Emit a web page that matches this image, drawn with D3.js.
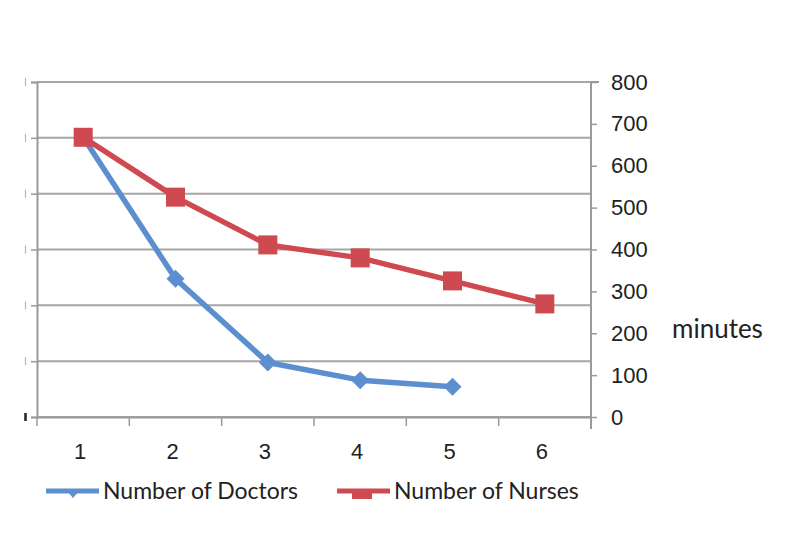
<!DOCTYPE html>
<html>
<head>
<meta charset="utf-8">
<script src="https://cdn.jsdelivr.net/npm/d3@7"></script>
<style>
  body { margin: 0; background: #fff; }
  svg { display: block; font-family: Lato, "Open Sans", sans-serif; }
</style>
</head>
<body>
<div id="chart"></div>
<script>
'use strict';

// data
var categories = ["1", "2", "3", "4", "5", "6"];
var doctors = [668, 330, 130, 88, 72, null];
var nurses = [668, 525, 411, 380, 325, 270];
var rightTicks = [0, 100, 200, 300, 400, 500, 600, 700, 800];
var leftTicks = [0, 200, 400, 600, 800, 1000, 1200];
var seriesNames = ["Number of Doctors", "Number of Nurses"];
var seriesColors = ["#5b8fcf", "#cf4a50"];

var W = 800, H = 555;
var plot = { left: 37, right: 591, top: 82, bottom: 417 };
var axisGrey = "#9a9a9a";

var svg = d3.select("#chart").append("svg")
	.attr("width", W)
	.attr("height", H);

var x = d3.scaleBand()
	.domain(categories)
	.range([plot.left, plot.right]);

var yRight = d3.scaleLinear()
	.domain([0, 800])
	.range([plot.bottom, plot.top]);

// primary axis: only drives the gridlines, its labels are off the picture
var yLeft = d3.scaleLinear()
	.domain([0, 1200])
	.range([plot.bottom, plot.top]);

// gridlines
svg.append("g")
	.selectAll("line")
	.data(leftTicks)
	.enter().append("line")
	.attr("x1", plot.left)
	.attr("x2", plot.right)
	.attr("y1", function(d) { return yLeft(d); })
	.attr("y2", function(d) { return yLeft(d); })
	.attr("stroke", "#a6a6a6")
	.attr("stroke-width", 2);

var leftAxis = svg.append("g")
	.attr("transform", "translate(" + plot.left + ",0)")
	.call(d3.axisLeft(yLeft).tickValues(leftTicks).tickSize(6).tickFormat(""));
leftAxis.select(".domain").attr("stroke", axisGrey).attr("stroke-width", 2);
leftAxis.selectAll(".tick line").attr("stroke", axisGrey).attr("stroke-width", 1.5);

// slivers of the cut-off left labels
svg.append("g").selectAll("line")
	.data(leftTicks)
	.enter().append("line")
	.attr("x1", 25.5).attr("x2", 25.5)
	.attr("y1", function(d) { return yLeft(d) - 4; })
	.attr("y2", function(d) { return yLeft(d) + 4; })
	.attr("stroke", function(d) { return d === 0 ? "#222" : "#b5b5b5"; })
	.attr("stroke-width", function(d) { return d === 0 ? 2.5 : 1.2; });

// right axis
var rightAxis = svg.append("g")
	.attr("transform", "translate(" + plot.right + ",0)")
	.call(d3.axisRight(yRight).tickValues(rightTicks).tickSize(6).tickPadding(14));
rightAxis.select(".domain").attr("stroke", axisGrey).attr("stroke-width", 2)
	.attr("d", "M0," + plot.top + "V" + (plot.bottom + 12));
rightAxis.selectAll(".tick line").attr("stroke", axisGrey).attr("stroke-width", 1.5);
rightAxis.selectAll(".tick text")
	.attr("font-size", 22)
	.attr("fill", "#222");

svg.append("line")
	.attr("x1", plot.right).attr("x2", plot.right + 8)
	.attr("y1", plot.top).attr("y2", plot.top)
	.attr("stroke", axisGrey).attr("stroke-width", 2);

// bottom axis
var xAxis = svg.append("g")
	.attr("transform", "translate(0," + plot.bottom + ")")
	.call(d3.axisBottom(x).tickSize(0).tickPadding(26));
xAxis.select(".domain").attr("stroke", axisGrey).attr("stroke-width", 2);
xAxis.selectAll(".tick text").attr("font-size", 22).attr("fill", "#222")
	.attr("dx", -3);
var seps = [0].concat(categories.map(function(d, i) { return i + 1; }));
xAxis.selectAll(".sep")
	.data(seps)
	.enter().append("line")
	.attr("x1", function(d) { return plot.left + x.bandwidth() * d; })
	.attr("x2", function(d) { return plot.left + x.bandwidth() * d; })
	.attr("y1", 0).attr("y2", 9)
	.attr("stroke", axisGrey).attr("stroke-width", 1.5);

// axis title
svg.append("text")
	.attr("x", 672)
	.attr("y", 338)
	.attr("font-size", 26)
	.attr("fill", "#222")
	.text("minutes");

function cx(d, i) { return x(categories[i]) + x.bandwidth() / 2; }

var line = d3.line()
	.defined(function(d) { return d != null; })
	.x(cx)
	.y(function(d) { return yRight(d); });

svg.append("path")
	.datum(doctors)
	.attr("fill", "none")
	.attr("stroke", seriesColors[0])
	.attr("stroke-width", 5.5)
	.attr("stroke-linejoin", "round")
	.attr("d", line);

svg.append("g").selectAll("path")
	.data(doctors.map(function(d, i) { return { v: d, i: i }; }).filter(function(d) { return d.v != null; }))
	.enter().append("path")
	.attr("d", "M0,-9L9,0L0,9L-9,0Z")
	.attr("fill", seriesColors[0])
	.attr("transform", function(d) { return "translate(" + cx(d.v, d.i) + "," + yRight(d.v) + ")"; });

svg.append("path")
	.datum(nurses)
	.attr("fill", "none")
	.attr("stroke", seriesColors[1])
	.attr("stroke-width", 5.5)
	.attr("stroke-linejoin", "round")
	.attr("d", line);

svg.append("g").selectAll("rect")
	.data(nurses)
	.enter().append("rect")
	.attr("x", function(d, i) { return cx(d, i) - 9.5; })
	.attr("y", function(d) { return yRight(d) - 9.5; })
	.attr("width", 19)
	.attr("height", 19)
	.attr("fill", seriesColors[1]);

// legend
var legendX = [46, 337];
var legend = svg.append("g").selectAll("g")
	.data(seriesNames)
	.enter().append("g")
	.attr("transform", function(d, i) { return "translate(" + legendX[i] + ",491)"; });

legend.append("line")
	.attr("x1", 0).attr("x2", 53)
	.attr("y1", 0).attr("y2", 0)
	.attr("stroke", function(d, i) { return seriesColors[i]; })
	.attr("stroke-width", 5);

legend.filter(function(d, i) { return i === 0; })
	.append("path")
	.attr("d", "M21,0L33,0L27,7Z")
	.attr("fill", seriesColors[0]);

legend.filter(function(d, i) { return i === 1; })
	.append("rect")
	.attr("x", 15).attr("y", -2)
	.attr("width", 20).attr("height", 10)
	.attr("fill", seriesColors[1]);

legend.append("text")
	.attr("x", 57)
	.attr("y", 0)
	.attr("dy", "0.35em")
	.attr("font-size", 23)
	.attr("fill", "#222")
	.text(function(d) { return d; });
</script>
</body>
</html>
